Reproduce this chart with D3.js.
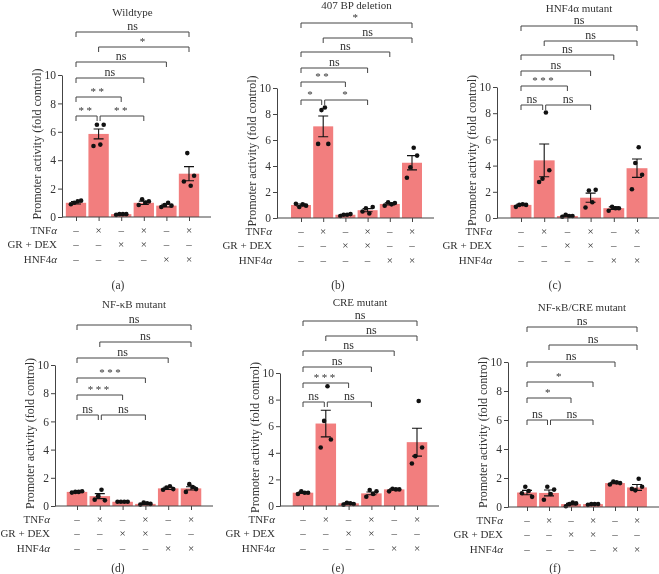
<!DOCTYPE html>
<html lang="en">
<head>
  <meta charset="utf-8">
  <title>Promoter activity</title>
  <script src="https://d3js.org/d3.v7.min.js"></script>
  <style>
  body { margin: 0; background: #fff; }
  svg { will-change: transform; }
  text { font-family: "Liberation Serif", "DejaVu Serif", serif; fill: #333; }
  </style>
</head>
<body>
<div id="chart"></div>
<script>
// ---- data ----
var titles = ["Wildtype", "407 BP deletion", "HNF4α mutant", "NF-κB mutant", "CRE mutant", "NF-κB/CRE mutant"];
var letters = ["(a)", "(b)", "(c)", "(d)", "(e)", "(f)"];
var yTicks = [0, 2, 4, 6, 8, 10];

// rows under the x axis: 1 = ×, 0 = –
var rowNames = ["TNF", "GR + DEX", "HNF4"];
var rowGreek = ["α", "", "α"];
var rowMarks = [
  [0, 1, 0, 1, 0, 1],
  [0, 0, 1, 1, 0, 0],
  [0, 0, 0, 0, 1, 1]
];

var means = [
  [1.0, 5.85, 0.2, 1.0, 0.8, 3.05],
  [1.0, 7.05, 0.25, 0.6, 1.08, 4.25],
  [1.0, 4.4, 0.15, 1.55, 0.75, 3.8],
  [1.0, 0.7, 0.3, 0.15, 1.25, 1.25],
  [1.0, 6.2, 0.2, 0.95, 1.25, 4.8],
  [1.0, 0.97, 0.2, 0.2, 1.65, 1.35]
];
var sems = [
  [0.08, 0.35, 0.02, 0.12, 0.1, 0.5],
  [0.08, 0.8, 0.03, 0.12, 0.08, 0.55],
  [0.05, 1.25, 0.05, 0.35, 0.1, 0.7],
  [0.03, 0.18, 0.01, 0.05, 0.08, 0.12],
  [0.05, 1.0, 0.05, 0.1, 0.05, 1.05],
  [0.15, 0.2, 0.05, 0.02, 0.05, 0.2]
];
var points = [
  [[0.9, 1.0, 1.1, 1.15], [5.0, 6.5, 5.1, 6.5], [0.15, 0.2, 0.2, 0.2], [0.85, 1.25, 1.0, 1.1], [0.7, 0.85, 1.0, 0.8], [2.5, 4.5, 2.2, 2.9]],
  [[1.1, 0.85, 1.05, 0.95], [5.7, 8.3, 8.5, 5.7], [0.15, 0.25, 0.25, 0.3], [0.5, 0.75, 0.35, 0.85], [0.95, 1.2, 1.05, 1.15], [3.1, 3.9, 5.4, 4.8]],
  [[0.85, 1.0, 1.05, 1.0], [2.75, 3.0, 8.05, 3.65], [0.1, 0.25, 0.15, 0.15], [0.8, 2.1, 1.2, 2.15], [0.55, 0.85, 0.75, 0.75], [2.2, 4.2, 5.4, 3.3]],
  [[0.95, 1.0, 1.0, 1.05], [0.45, 0.7, 1.15, 0.4], [0.3, 0.3, 0.3, 0.3], [0.1, 0.25, 0.2, 0.15], [1.15, 1.3, 1.4, 1.2], [1.0, 1.55, 1.35, 1.2]],
  [[0.9, 1.1, 1.0, 1.0], [4.4, 6.4, 9.0, 5.0], [0.1, 0.25, 0.2, 0.15], [0.7, 1.2, 0.9, 1.1], [1.1, 1.3, 1.25, 1.25], [3.2, 3.75, 7.9, 4.4]],
  [[0.95, 1.4, 1.1, 0.7], [0.5, 1.4, 0.9, 1.2], [0.05, 0.2, 0.3, 0.25], [0.15, 0.2, 0.2, 0.2], [1.55, 1.75, 1.7, 1.65], [1.25, 1.15, 1.95, 1.4]]
];

// comparison brackets, same order for every panel (top to bottom)
var bracketPairs = [[0, 5], [1, 5], [0, 4], [0, 3], [0, 2], [0, 1], [1, 3]];
var bracketLevel = [0, 1, 2, 3, 4, 5, 5];
var bracketLabels = [
  ["ns", "*", "ns", "ns", "**", "**", "**"],
  ["*", "ns", "ns", "ns", "**", "*", "*"],
  ["ns", "ns", "ns", "ns", "***", "ns", "ns"],
  ["ns", "ns", "ns", "***", "***", "ns", "ns"],
  ["ns", "ns", "ns", "ns", "***", "ns", "ns"],
  ["ns", "ns", "ns", "*", "*", "ns", "ns"]
];

// ---- layout of each panel (pixels) ----
var layout = [
  {axisX: 62,  x1: 76,  x6: 189, y10: 75,  y0: 217, levels: [32, 47, 62, 78, 97, 116],   titleY: 12,  letterX: 118, letterY: 285},
  {axisX: 277, x1: 301, x6: 412, y10: 88,  y0: 218, levels: [23, 38, 52, 68, 82, 100],   titleY: 5,   letterX: 338, letterY: 285},
  {axisX: 497, x1: 521, x6: 637, y10: 87,  y0: 218, levels: [26, 41, 55, 71, 86, 105],   titleY: 8,   letterX: 555, letterY: 285},
  {axisX: 55,  x1: 77,  x6: 191, y10: 365, y0: 506, levels: [325, 342, 358, 378, 395, 415], titleY: 304, letterX: 118, letterY: 568},
  {axisX: 280, x1: 303, x6: 417, y10: 373, y0: 506, levels: [321, 336, 351, 367, 383, 402], titleY: 302, letterX: 338, letterY: 568},
  {axisX: 508, x1: 527, x6: 637, y10: 362, y0: 507, levels: [327, 345, 362, 382, 398, 420], titleY: 307, letterX: 555, letterY: 568}
];

var barColor = "#f27e7e";
var lineColor = "#444";

var svg = d3.select("#chart")
  .append("svg")
    .attr("width", 659)
    .attr("height", 574);

layout.forEach(function(L, p) {

  var g = svg.append("g");

  var x = d3.scalePoint()
    .domain(d3.range(6))
    .range([L.x1, L.x6]);
  var y = d3.scaleLinear()
    .domain([0, 10])
    .range([L.y0, L.y10]);

  var barW = x.step() * 0.9;

  // bars
  g.selectAll("rect.bar")
    .data(means[p])
    .enter()
    .append("rect")
      .attr("class", "bar")
      .attr("x", function(d, i) { return x(i) - barW / 2; })
      .attr("y", function(d) { return y(d); })
      .attr("width", barW)
      .attr("height", function(d) { return y(0) - y(d); })
      .attr("fill", barColor);

  // dots
  points[p].forEach(function(vals, i) {
    g.selectAll(null)
      .data(vals)
      .enter()
      .append("circle")
        .attr("cx", function(d, k) { return x(i) + (k - 1.5) * 3.4; })
        .attr("cy", function(d) { return y(d); })
        .attr("r", 2.3)
        .attr("fill", "#111");
  });

  // error bars (mean +- SEM)
  means[p].forEach(function(m, i) {
    var s = sems[p][i];
    var eb = d3.path();
    eb.moveTo(x(i), y(m - s)); eb.lineTo(x(i), y(m + s));
    eb.moveTo(x(i) - 5, y(m + s)); eb.lineTo(x(i) + 5, y(m + s));
    eb.moveTo(x(i) - 5, y(m - s)); eb.lineTo(x(i) + 5, y(m - s));
    g.append("path")
      .attr("d", eb.toString())
      .attr("stroke", "#111")
      .attr("stroke-width", 1.1)
      .attr("fill", "none");
  });

  // y axis
  var yAxis = g.append("g")
    .attr("transform", "translate(" + L.axisX + ",0)")
    .call(d3.axisLeft(y).tickValues(yTicks).tickSize(4).tickSizeOuter(0).tickPadding(2));
  yAxis.selectAll("path, line").attr("stroke", lineColor);
  yAxis.selectAll("text")
    .style("font-family", "Liberation Serif, serif")
    .style("font-size", "11.5px")
    .attr("fill", "#333");

  // x axis: baseline plus short ticks at every bar
  g.append("line")
    .attr("x1", L.axisX).attr("x2", L.x6 + 22)
    .attr("y1", L.y0).attr("y2", L.y0)
    .attr("stroke", lineColor);
  var xAxis = g.append("g")
    .attr("transform", "translate(0," + L.y0 + ")")
    .call(d3.axisBottom(x).tickSize(4).tickFormat(""));
  xAxis.select(".domain").remove();
  xAxis.selectAll("line").attr("stroke", lineColor);

  // y axis title
  g.append("text")
    .attr("transform", "translate(" + (L.axisX - 21) + "," + ((L.y0 + L.y10) / 2 - 2) + ")rotate(-90)")
    .attr("text-anchor", "middle")
    .style("font-size", "12px")
    .text("Promoter activity (fold control)");

  // panel title
  g.append("text")
    .attr("x", (L.x1 + L.x6) / 2)
    .attr("y", L.titleY + 4)
    .attr("text-anchor", "middle")
    .style("font-size", "11px")
    .text(titles[p]);

  // condition rows
  rowNames.forEach(function(name, r) {
    var ty = L.y0 + 13 + 14.3 * r + 4;
    var t = g.append("text")
      .attr("x", L.axisX - 5)
      .attr("y", ty)
      .attr("text-anchor", "end")
      .style("font-size", "11px")
      .text(name);
    if (rowGreek[r]) {
      t.append("tspan").style("font-style", "italic").text(rowGreek[r]);
    }
    g.selectAll(null)
      .data(rowMarks[r])
      .enter()
      .append("text")
        .attr("x", function(d, i) { return x(i); })
        .attr("y", ty)
        .attr("text-anchor", "middle")
        .style("font-size", "11px")
        .attr("fill", "#555")
        .text(function(d) { return d ? "×" : "–"; });
  });

  // significance brackets
  bracketPairs.forEach(function(pair, b) {
    var ly = L.levels[bracketLevel[b]];
    var xa = x(pair[0]), xb = x(pair[1]);
    // the two brackets on the lowest level leave a small gap at bar 2
    if (b === 5) xb -= 1.5;
    if (b === 6) xa += 1.5;
    var bp = d3.path();
    bp.moveTo(xa, ly + 5); bp.lineTo(xa, ly); bp.lineTo(xb, ly); bp.lineTo(xb, ly + 5);
    g.append("path")
      .attr("d", bp.toString())
      .attr("stroke", lineColor)
      .attr("stroke-width", 1)
      .attr("fill", "none");
    var lab = bracketLabels[p][b];
    g.append("text")
      .attr("x", (xa + xb) / 2)
      .attr("y", ly - 2.5)
      .attr("text-anchor", "middle")
      .style("font-size", lab === "ns" ? "12px" : "11px")
      .style("letter-spacing", lab === "ns" ? "0px" : "2.5px")
      .attr("fill", lab === "ns" ? "#333" : "#555")
      .text(lab);
  });

  // panel letter
  g.append("text")
    .attr("x", L.letterX)
    .attr("y", L.letterY + 4)
    .attr("text-anchor", "middle")
    .style("font-size", "11.5px")
    .text(letters[p]);
});
</script>
</body>
</html>
